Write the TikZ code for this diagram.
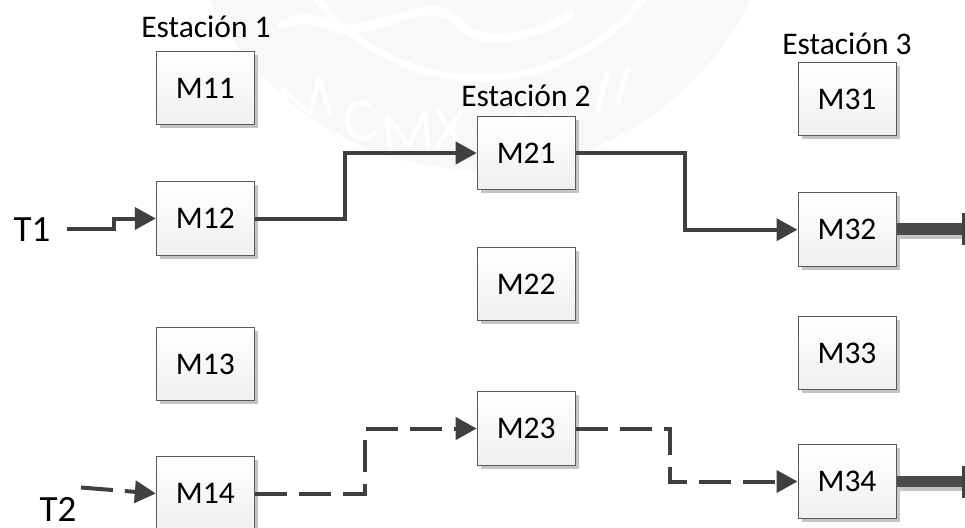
\documentclass[tikz,border=0pt]{standalone}
\usepackage{fontspec}
\setmainfont{Carlito}
\usetikzlibrary{arrows.meta,calc,shadings}
\definecolor{linec}{HTML}{404040}
\definecolor{boxline}{HTML}{5A5A5A}
\definecolor{shadowc}{HTML}{C4C4C4}
\definecolor{sealc}{HTML}{F8F8F8}
\tikzset{
  x=1pt,y=-1pt,
  machine/.style={rectangle,draw=boxline,line width=1pt,top color=white,bottom color=black!6,
    minimum width=98pt,minimum height=73.5pt,inner sep=0pt,font=\fontsize{31.5}{31.5}\selectfont,text=black,
    preaction={draw=none,fill=shadowc,transform canvas={shift={(3.5pt,-3.5pt)}}}},
  stationlabel/.style={inner sep=0pt,font=\fontsize{31.5}{31.5}\selectfont,text=black},
  joblabel/.style={inner sep=0pt,font=\fontsize{37}{37}\selectfont,text=black},
  flow/.style={draw=linec,line width=4pt,-{Triangle[length=21pt,width=22pt,fill=linec]}},
  flowdash/.style={flow,dash pattern=on 32pt off 12pt},
  exitbar/.style={draw=linec!95,line width=11.5pt},
  exitcap/.style={draw=linec,line width=2.4pt},
  exitshade/.style={draw=shadowc,line width=11.5pt},
  sealletter/.style={inner sep=0pt,text=white,font=\fontsize{62}{62}\selectfont},
}
\begin{document}
\begin{tikzpicture}
\useasboundingbox (0,0) rectangle (965,527);
\clip (0,0) rectangle (965,527);
% faint seal behind the diagram
\fill[sealc] (480,-130) circle[radius=300];
\draw[white,line width=7pt] (480,-130) circle[radius=208];
\draw[white,line width=9pt,line cap=round] (282,25) .. controls (320,8) and (325,35) .. (360,28) .. controls (400,20) and (430,0) .. (455,18) .. controls (470,45) and (520,45) .. (570,15);
\node[sealletter,rotate=17] (sm1) at (307,103) {M};
\node[sealletter,rotate=11] (sc) at (360,122) {C};
\node[sealletter,rotate=5] (sm2) at (408,133) {M};
\node[sealletter,rotate=-1] (sx) at (450,130) {X};
\node[sealletter,rotate=-7] (sv) at (530,132) {V};
\node[sealletter,rotate=-14] (si1) at (603,92) {I};
\node[sealletter,rotate=-17] (si2) at (624,85) {I};
% machines
\node[machine] (m11) at (205.3,88) {M11};
\node[machine] (m12) at (205.3,218.5) {M12};
\node[machine] (m13) at (205.3,364) {M13};
\node[machine] (m14) at (205.3,493.5) {M14};
\node[machine] (m21) at (526.2,153) {M21};
\node[machine] (m22) at (526.2,284) {M22};
\node[machine] (m23) at (526.2,428.5) {M23};
\node[machine] (m31) at (847,99) {M31};
\node[machine] (m32) at (847,229.7) {M32};
\node[machine] (m33) at (847,353) {M33};
\node[machine] (m34) at (847,481.5) {M34};
\node[stationlabel] (s1) at (206,27) {Estación 1};
\node[stationlabel] (s2) at (526,96) {Estación 2};
\node[stationlabel] (s3) at (847,44) {Estación 3};
\node[joblabel] (t1) at (32,230) {T1};
\node[joblabel] (t2) at (58,509) {T2};
\coordinate (e3) at (963.5,229);
\coordinate (e4) at (963.5,481.5);
\coordinate (t2s) at (81,487.5);
% connectors
\draw[flow,shorten <=16pt] (t1.east |- 0,228.5) -- ++(63,0) |- (m12.west);
\draw[flow] (m12.east) -- ++(90.5,0) |- (m21.west);
\draw[flow] (m21.east) -- ++(109,0) |- (m32.west);
\draw[flowdash] (t2s) -- (m14.west);
\draw[flowdash] (m14.east) -- ++(110,0) |- (m23.west);
\draw[flowdash] (m23.east) -- ++(94,0) |- (m34.west);
% exit bars
\draw[exitshade] ([shift={(1pt,-4pt)}]m32.east |- e3) -- ([yshift=-4pt]e3);
\draw[exitshade] ([shift={(1pt,-4pt)}]m34.east |- e4) -- ([yshift=-4pt]e4);
\draw[exitbar] (m32.east |- e3) -- (e3);
\draw[exitbar] (m34.east |- e4) -- (e4);
\draw[exitcap] ([yshift=16pt]e3) -- ([yshift=-16pt]e3);
\draw[exitcap] ([yshift=16pt]e4) -- ([yshift=-16pt]e4);
\end{tikzpicture}
\end{document}
